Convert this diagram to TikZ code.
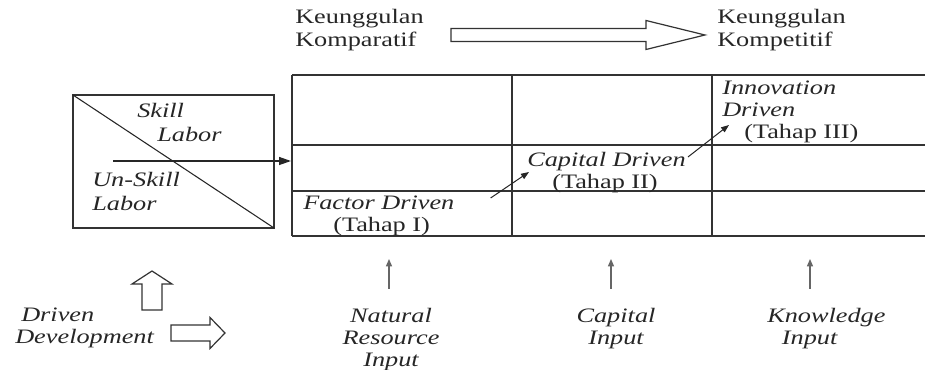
\documentclass[tikz,border=0pt]{standalone}
\usepackage{fontspec}
\setmainfont{Liberation Serif}[FakeStretch=1.28]
\usetikzlibrary{arrows.meta}
\usetikzlibrary{positioning}
\tikzset{
	>={Triangle[length=6pt,width=4.5pt]},
	gridline/.style={draw=black!80, line width=1.1pt},
	blockarrow/.style={draw=black!80, line width=0.9pt, fill=white, line join=miter},
	txt/.style={
		inner sep=0pt,
		text=black!85,
		align=left},
	itxt/.style={txt, font=\itshape\fontsize{15.4pt}{16.5pt}\selectfont},
	stagearrow/.style={->, draw=black!85, line width=0.75pt},
	inarrow/.style={-{Triangle[length=5.5pt,width=4.5pt]}, draw=black!60, line width=0.9pt},
	laborarrow/.style={-{Triangle[length=9pt,width=6pt]}, draw=black!85, line width=1pt},
}
\begin{document}
\begin{tikzpicture}
			[x=0.75pt, y=-0.75pt,
			font=\fontsize{15.4pt}{16.5pt}\selectfont]
			
			\useasboundingbox (0,0) rectangle (925,370);
			
			% top: comparative -> competitive
			\node[txt, anchor=north west, font=\fontsize{15.4pt}{17.6pt}\selectfont] (komparatif) at (295,9) {Keunggulan\\Komparatif};
			\node[txt, anchor=north west, font=\fontsize{15.4pt}{17.6pt}\selectfont] (kompetitif) at (717,9) {Keunggulan\\Kompetitif};
			\draw[blockarrow] (451,28.5) -- (646,28.5) -- (646,20.5) -- (705,35) -- (646,49.5) -- (646,41.5) -- (451,41.5) -- cycle;
			
			% labor box
			\node[draw=black!80, line width=1.1pt, inner sep=0pt, outer sep=0pt,
				minimum width=150.75pt, minimum height=99.75pt, anchor=north west] (laborbox) at (73,95) {};
			\draw[black!85, line width=0.8pt] (laborbox.north west) -- (laborbox.south east);
			\node[itxt, anchor=north west, font=\itshape\fontsize{15.4pt}{18pt}\selectfont] (skill) at (137,103) {Skill\\\hspace*{15pt}Labor};
			\node[itxt, anchor=north west, font=\itshape\fontsize{15.4pt}{18pt}\selectfont] (unskill) at (92,172) {Un-Skill\\Labor};
			
			% stages grid
			\foreach \y in {75,145,191,236}
				\draw[gridline] (292,\y) -- (925,\y);
			\foreach \x in {292,512,712}
				\draw[gridline] (\x,75) -- (\x,236);
			
			\coordinate (laborin) at (113,161);
			\coordinate (gridin) at (291,161);
			\draw[laborarrow] (laborin) -- (gridin);
			
			\node[txt, anchor=north west] (factor) at (303,196) {\textit{Factor Driven}\\\hspace*{22.5pt}(Tahap I)};
			\node[txt, anchor=north west] (capital) at (527,152) {\textit{Capital Driven}\\\hspace*{18.75pt}(Tahap II)};
			\node[txt, anchor=north west] (innov) at (722,81) {\textit{Innovation}\\\textit{Driven}\\\hspace*{16.5pt}(Tahap III)};
			
			\draw[stagearrow] ([shift={(36,2)}]factor.north east) -- ([shift={(2,20)}]capital.north west);
			\draw[stagearrow] ([shift={(2,5)}]capital.north east) -- ([shift={(7,44)}]innov.north west);
			
			% inputs
			\node[itxt, anchor=north west] (driven) at (15,308) {\hspace*{4.5pt}Driven\\Development};
			\node[itxt, anchor=north, align=center] (natural) at (391,308) {Natural\\Resource\\Input};
			\node[itxt, anchor=north, align=center] (capin) at (616,308) {Capital\\Input};
			\node[itxt, anchor=north west] (knowin) at (767,308) {Knowledge\\\hspace*{11pt}Input};
			
			\draw[blockarrow] (142,310) -- (142,284) -- (132,284) -- (152,271) -- (172,284) -- (162,284) -- (162,310) -- cycle;
			\draw[blockarrow] (171,325) -- (210,325) -- (210,317.5) -- (225,333) -- (210,348.5) -- (210,341) -- (171,341) -- cycle;
			
			\coordinate (natfoot) at (389,289);
			\coordinate (nattip) at (389,259);
			\coordinate (capfoot) at (611,289);
			\coordinate (captip) at (611,259);
			\coordinate (knowfoot) at (810,289);
			\coordinate (knowtip) at (810,259);
			\draw[inarrow] (natfoot) -- (nattip);
			\draw[inarrow] (capfoot) -- (captip);
			\draw[inarrow] (knowfoot) -- (knowtip);
			
\end{tikzpicture}
\end{document}
